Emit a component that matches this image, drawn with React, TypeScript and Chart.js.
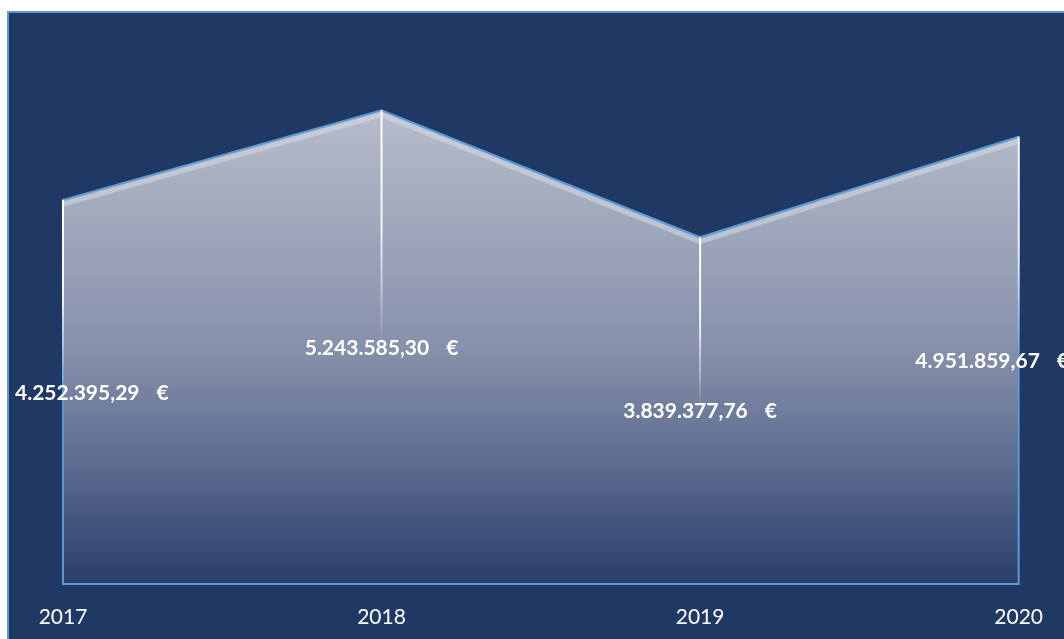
import React, { useEffect, useRef } from "react";
import { Chart, registerables } from "chart.js";

Chart.register(...registerables);

const categories = ["2017", "2018", "2019", "2020"];
const values = [4252395.29, 5243585.3, 3839377.76, 4951859.67];
const yMin = 0;
const yMax = 6000000;

const BG = "#1F3864";
const BLUE = "#5B9BD5";

function fmt(v: number): string {
  return v.toLocaleString("de-DE", { minimumFractionDigits: 2, maximumFractionDigits: 2 });
}

const bgPlugin = {
  id: "bgPlugin",
  beforeDraw(chart: any) {
    const ctx = chart.ctx;
    ctx.save();
    ctx.fillStyle = "#FFFFFF";
    ctx.fillRect(0, 0, chart.width, chart.height);
    ctx.fillStyle = BG;
    ctx.fillRect(7, 11, chart.width, chart.height);
    ctx.strokeStyle = BLUE;
    ctx.lineWidth = 2;
    ctx.beginPath();
    ctx.moveTo(8, chart.height);
    ctx.lineTo(8, 12);
    ctx.lineTo(chart.width, 12);
    ctx.stroke();
    ctx.restore();
  },
};

const decorPlugin = {
  id: "decorPlugin",
  afterDatasetDraw(chart: any, args: any) {
    if (args.index !== 0) return;
    const ctx = chart.ctx;
    const pts = args.meta.data;
    const base = chart.scales.y.getPixelForValue(0);
    ctx.save();
    ctx.beginPath();
    ctx.rect(pts[0].x, chart.chartArea.top, pts[pts.length - 1].x - pts[0].x, base - chart.chartArea.top);
    ctx.clip();
    ctx.strokeStyle = "rgba(214,218,228,0.55)";
    ctx.lineWidth = 5;
    ctx.lineJoin = "miter";
    ctx.beginPath();
    pts.forEach((p: any, i: number) => {
      if (i === 0) ctx.moveTo(p.x, p.y + 4.5);
      else ctx.lineTo(p.x, p.y + 4.5);
    });
    ctx.stroke();
    ctx.restore();
    ctx.save();
    ctx.strokeStyle = BLUE;
    ctx.lineWidth = 2;
    ctx.beginPath();
    ctx.moveTo(pts[0].x, pts[0].y);
    ctx.lineTo(pts[0].x, base);
    ctx.lineTo(pts[pts.length - 1].x, base);
    ctx.lineTo(pts[pts.length - 1].x, pts[pts.length - 1].y);
    ctx.stroke();
    ctx.restore();
  },
  afterDatasetsDraw(chart: any) {
    const ctx = chart.ctx;
    const meta = chart.getDatasetMeta(0);
    const pts = meta.data;
    const base = chart.scales.y.getPixelForValue(0);
    ctx.save();
    pts.forEach((p: any) => {
      const mid = (p.y + base) / 2 - 6;
      const g = ctx.createLinearGradient(0, p.y, 0, mid);
      g.addColorStop(0, "rgba(255,255,255,1)");
      g.addColorStop(0.5, "rgba(255,255,255,0.9)");
      g.addColorStop(1, "rgba(255,255,255,0.05)");
      ctx.strokeStyle = g;
      ctx.lineWidth = 2;
      ctx.beginPath();
      ctx.moveTo(p.x, p.y);
      ctx.lineTo(p.x, mid);
      ctx.stroke();
    });
    ctx.font = "bold 21px Lato";
    ctx.fillStyle = "#FFFFFF";
    ctx.textBaseline = "middle";
    ctx.textAlign = "left";
    const minLeft = 15;
    const maxRight = 1069;
    const gap = 17;
    pts.forEach((p: any, i: number) => {
      const num = fmt(values[i]);
      const wNum = ctx.measureText(num).width;
      const wEur = ctx.measureText("€").width;
      const w = wNum + gap + wEur;
      let left = p.x - w / 2;
      if (left < minLeft) left = minLeft;
      if (left + w > maxRight) left = maxRight - w;
      const y = (p.y + base) / 2 + 1;
      ctx.fillText(num, left, y);
      ctx.fillText("€", left + wNum + gap, y);
    });
    ctx.restore();
  },
};

export default function App() {
  const ref = useRef<HTMLCanvasElement | null>(null);

  useEffect(() => {
    if (!ref.current) return;
    const chart = new Chart(ref.current, {
      type: "line",
      data: {
        labels: categories,
        datasets: [
          {
            data: values,
            order: 2,
            fill: "origin",
            borderWidth: 0,
            borderColor: "rgba(0,0,0,0)",
            pointRadius: 0,
            tension: 0,
            backgroundColor: (context: any) => {
              const c = context.chart;
              const area = c.chartArea;
              if (!area) return "#8791AB";
              const ys = c.scales.y;
              const top = ys.getPixelForValue(Math.max(...values));
              const bottom = ys.getPixelForValue(0);
              const g = c.ctx.createLinearGradient(0, top, 0, bottom);
              g.addColorStop(0, "#B6BCCB");
              g.addColorStop(0.5, "#8791AB");
              g.addColorStop(0.73, "#5F6E91");
              g.addColorStop(1, "#2A3D6B");
              return g;
            },
          },
          {
            data: values,
            order: 1,
            fill: false,
            borderColor: BLUE,
            borderWidth: 2,
            pointRadius: 0,
            tension: 0,
          },
        ],
      },
      options: {
        responsive: false,
        animation: false,
        layout: { padding: { left: 63, right: 45, top: 42, bottom: 8.8 } },
        plugins: {
          legend: { display: false },
          tooltip: { enabled: false },
          title: { display: false },
        },
        scales: {
          x: {
            type: "category",
            offset: false,
            grid: { display: false, drawTicks: false },
            border: { display: false },
            ticks: {
              color: "#FFFFFF",
              padding: 21,
              maxRotation: 0,
              autoSkip: false,
              font: { family: "Lato", size: 21, weight: "normal", lineHeight: 1.2 },
            },
          },
          y: {
            display: false,
            min: yMin,
            max: yMax,
          },
        },
      },
      plugins: [bgPlugin, decorPlugin],
    });
    return () => chart.destroy();
  }, []);

  return (
    <div style={{ position: "fixed", left: 0, top: 0, width: 1064, height: 639, overflow: "hidden", background: "#fff" }}>
      <canvas ref={ref} width={1064} height={660} style={{ display: "block", width: 1064, height: 660 }} />
    </div>
  );
}
